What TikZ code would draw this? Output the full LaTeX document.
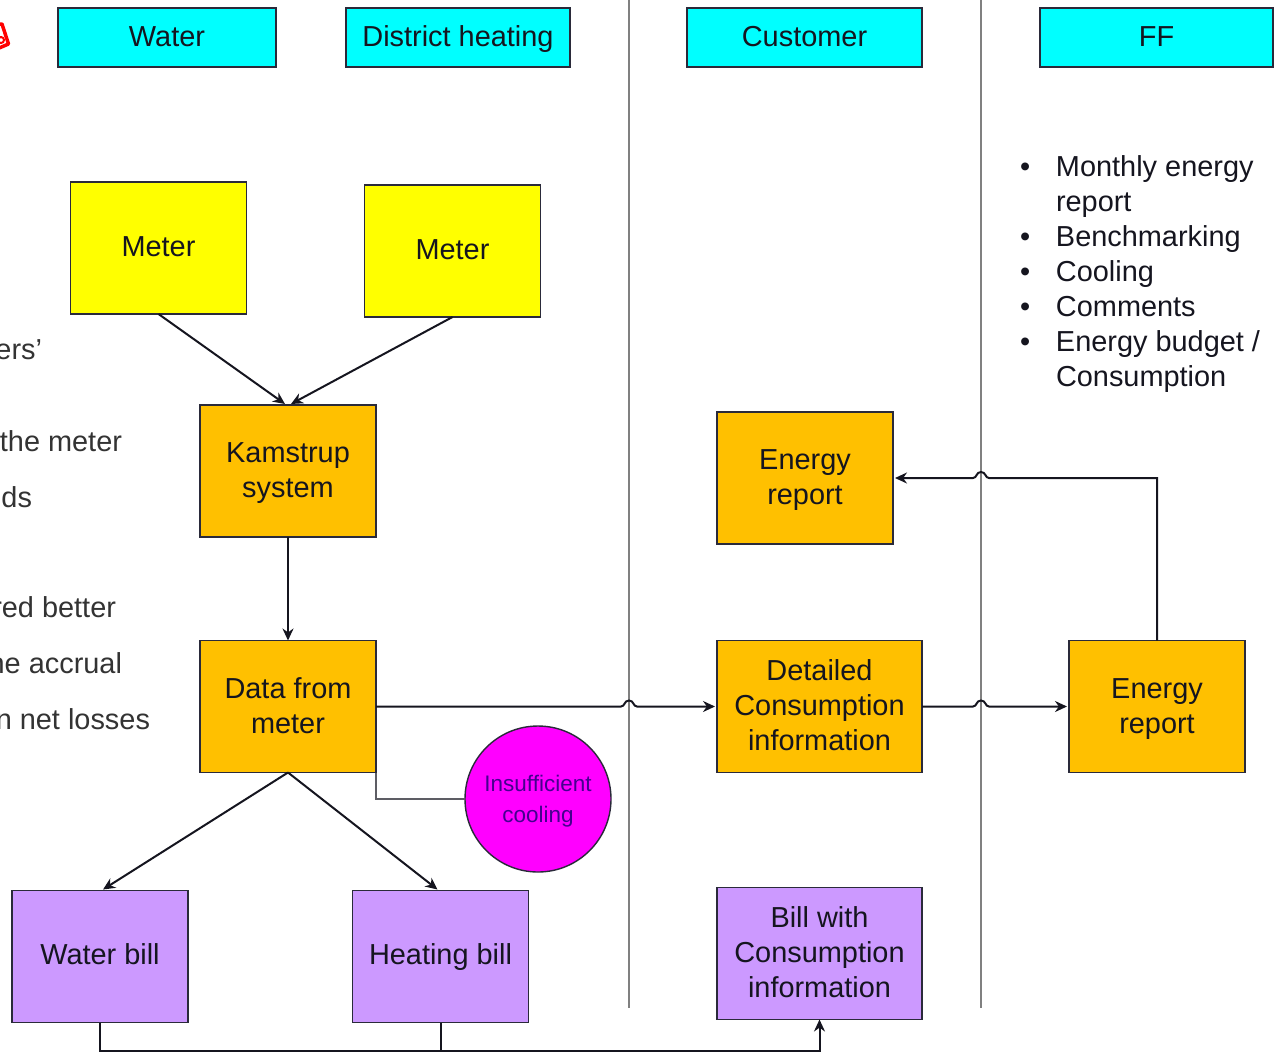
\documentclass[tikz,border=0pt]{standalone}
\usepackage{fontspec}
\setmainfont{Liberation Sans}
\usetikzlibrary{arrows.meta,calc}
\definecolor{txt}{HTML}{15151F}
\definecolor{hdr}{HTML}{00FFFF}
\definecolor{ylw}{HTML}{FFFF00}
\definecolor{org}{HTML}{FFC000}
\definecolor{pur}{HTML}{CC99FF}
\definecolor{mag}{HTML}{FF00FF}
\definecolor{edge}{HTML}{2A2A3A}
\definecolor{cooltxt}{HTML}{45008F}
\tikzset{
  every node/.style={text=txt,font=\fontsize{28.9}{35}\selectfont,inner sep=0pt,outer sep=0pt},
  boxbase/.style={draw=edge,line width=1.4pt,align=center,anchor=center},
  drop/.style={execute at begin node=\rule{0pt}{#1},execute at end node=\strut},
  twoline/.style={text height=53.5pt,text depth=0pt},
  threeline/.style={text height=88.5pt,text depth=0pt},
  hdrbox/.style={boxbase,fill=hdr,minimum height=59pt,drop=28.5pt},
  ylwbox/.style={boxbase,fill=ylw,minimum width=176pt,minimum height=132pt,drop=26.5pt},
  orgbox/.style={boxbase,fill=org,minimum width=176pt,minimum height=132pt,twoline},
  orgwide/.style={orgbox,minimum width=205pt,threeline},
  purbox/.style={boxbase,fill=pur,minimum width=176pt,minimum height=132pt,drop=26.5pt},
  purwide/.style={boxbase,fill=pur,minimum height=132pt,minimum width=205pt,threeline},
  conn/.style={draw=txt,line width=2pt,-{Stealth[length=12pt,width=11pt]}},
  plainconn/.style={draw=txt,line width=2pt},
  divider/.style={draw=gray,line width=2.2pt},
  sidetext/.style={anchor=east,text=black!80}
}
\newcommand{\hop}[1]{-- ([xshift=-8pt]#1) .. controls ([xshift=-4pt,yshift=0pt]#1) and ([xshift=-5pt,yshift=6pt]#1) .. ([xshift=0pt,yshift=6pt]#1) .. controls ([xshift=5pt,yshift=6pt]#1) and ([xshift=4pt,yshift=0pt]#1) .. ([xshift=8pt]#1)}
\begin{document}
\begin{tikzpicture}[x=1pt,y=-1pt]
\useasboundingbox (0,0) rectangle (1274,1061);
% dividers
\coordinate (v1t) at (629,0);
\coordinate (v1b) at (629,1008);
\coordinate (v2t) at (981,0);
\coordinate (v2b) at (981,1008);
\draw[divider] (v1t) -- (v1b);
\draw[divider] (v2t) -- (v2b);
% clipped mark at the top left
\begin{scope}
\clip (0,0) rectangle (12,60);
\draw[red,line width=3.5pt,line join=round] (-2,24) -- (2,24) -- (8.5,44) -- (-2,48.5);
\draw[red,line width=2pt] (1,40) circle (3pt);
\end{scope}
% headers
\node[hdrbox,minimum width=218pt] (water) at (167,37.5) {Water};
\node[hdrbox,minimum width=224pt] (heat) at (458,37.5) {District heating};
\node[hdrbox,minimum width=235pt] (cust) at (804.5,37.5) {Customer};
\node[hdrbox,minimum width=233pt] (ff) at (1156.5,37.5) {FF};
% boxes
\node[ylwbox] (m1) at (158.5,248) {Meter};
\node[ylwbox] (m2) at (452.5,251) {Meter};
\node[orgbox] (kam) at (288,471) {Kamstrup\\system};
\node[orgbox] (data) at (288,706.5) {Data from\\meter};
\node[orgbox] (er1) at (805,478) {Energy\\report};
\node[orgwide] (det) at (819.5,706.5) {Detailed\\Consumption\\information};
\node[orgbox] (er2) at (1157,706.5) {Energy\\report};
\node[purbox] (wb) at (100,956.5) {Water bill};
\node[purbox] (hb) at (440.5,956.5) {Heating bill};
\node[purwide] (bill) at (819.5,953.5) {Bill with\\Consumption\\information};
\node[circle,draw=edge,line width=1.4pt,fill=mag,minimum size=146pt,align=center,text=cooltxt,font=\fontsize{22.5}{31}\selectfont,text height=46.6pt,text depth=0pt] (cool) at (538,799) {Insufficient\\cooling};
% bullet list
\node[anchor=north west,align=left] (list) at (1020,156) {%
\makebox[36pt][l]{•}Monthly energy\\
\makebox[36pt][l]{}report\\
\makebox[36pt][l]{•}Benchmarking\\
\makebox[36pt][l]{•}Cooling\\
\makebox[36pt][l]{•}Comments\\
\makebox[36pt][l]{•}Energy budget /\\
\makebox[36pt][l]{}Consumption};
% clipped text at the left
\node[sidetext] (t1) at (42,350) {ers'};
\node[sidetext] (t2) at (122,441) {the meter};
\node[sidetext] (t3) at (32,497) {ds};
\node[sidetext] (t4) at (116,607) {red better};
\node[sidetext] (t5) at (122,663) {ne accrual};
\node[sidetext] (t6) at (150,719) {n net losses};
% connectors
\coordinate (j1) at (data.east -| v1t);
\coordinate (j2) at (det.east -| v2t);
\coordinate (corner) at (er1.east -| er2.north);
\coordinate (j3) at (er1.east -| v2t);
\coordinate (cc) at (data.south east |- cool.west);
\coordinate (bw) at (wb.south |- 0,1051);
\coordinate (bh) at (hb.south |- 0,1051);
\coordinate (bb) at (bill.south |- 0,1051);
\draw[conn] (m1.south) -- ([xshift=-3pt,yshift=1pt]kam.north);
\draw[conn] (m2.south) -- ([xshift=3pt,yshift=1pt]kam.north);
\draw[conn] (kam.south) -- (data.north);
\draw[conn] (data.south) -- ([xshift=3pt,yshift=1pt]wb.north);
\draw[conn] (data.south) -- ([xshift=-3pt,yshift=1pt]hb.north);
\draw[conn] (data.east) \hop{j1} -- ([xshift=-2pt]det.west);
\draw[conn] (det.east) \hop{j2} -- ([xshift=-2pt]er2.west);
\draw[conn] (er2.north) -- (corner) -- ([xshift=8pt]j3) .. controls ([xshift=4pt]j3) and ([xshift=5pt,yshift=6pt]j3) .. ([yshift=6pt]j3) .. controls ([xshift=-5pt,yshift=6pt]j3) and ([xshift=-4pt]j3) .. ([xshift=-8pt]j3) -- ([xshift=2pt]er1.east);
\draw[plainconn,draw=gray!60!edge,line width=1.6pt] (data.south east) -- (cc) -- (cool.west);
\draw[plainconn] (wb.south) -- (bw) -- (bh);
\draw[conn] (hb.south) -- (bh) -- (bb) -- (bill.south);
\end{tikzpicture}
\end{document}
